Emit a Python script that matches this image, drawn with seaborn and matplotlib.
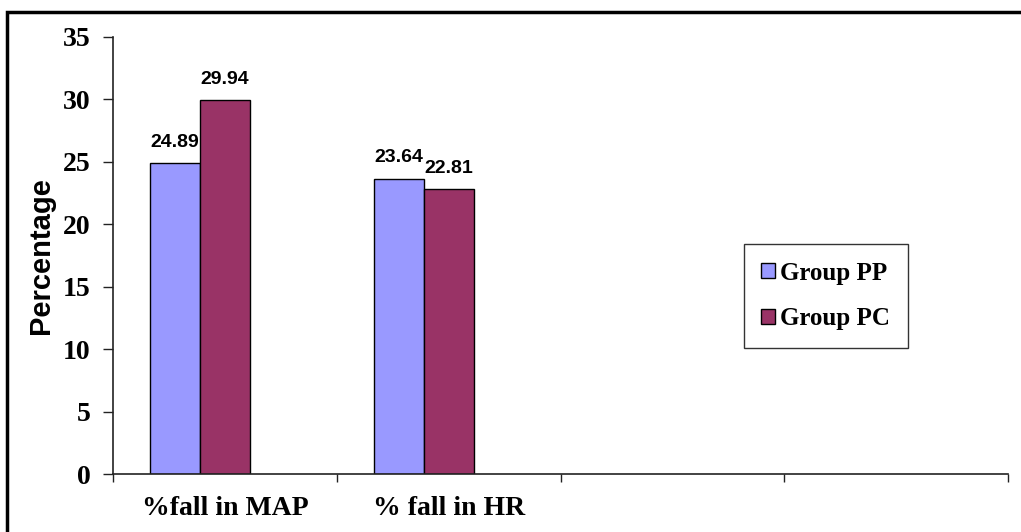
import matplotlib
matplotlib.use("Agg")
import matplotlib.pyplot as plt
import matplotlib.patches as mpatches
import seaborn as sns
import pandas as pd

# Data
categories = ["%fall in MAP", "% fall in HR"]
groups = ["Group PP", "Group PC"]
group_pp = [24.89, 23.64]
group_pc = [29.94, 22.81]
y_ticks = [0, 5, 10, 15, 20, 25, 30, 35]

colors = ["#9999FF", "#993366"]

df = pd.DataFrame({
    "category": categories * 2,
    "group": [groups[0]] * len(categories) + [groups[1]] * len(categories),
    "value": group_pp + group_pc,
})

sns.set_theme(style="white", rc={"text.color": "black", "axes.labelcolor": "black",
                                 "xtick.color": "black", "ytick.color": "black"})
plt.rcParams["font.family"] = ["Liberation Serif", "DejaVu Serif"]

fig = plt.figure(figsize=(10.21, 5.32), dpi=100)
ax = fig.add_axes([113 / 1021, 1 - 474 / 532, (1008 - 113) / 1021, (474 - 37) / 532])

# A third, empty series slot keeps the cluster layout of the original workbook
sns.barplot(data=df, x="category", y="value", hue="group", order=categories,
            hue_order=groups + [" "], palette=colors + ["#FFFFFF"], width=0.67,
            edgecolor="black", linewidth=1.0, saturation=1, ax=ax, legend=False)

# Value labels above bars
for container in ax.containers:
    ax.bar_label(container, fmt="%.2f", padding=9, fontsize=14, fontweight="bold",
                 color="black", family=["Liberation Sans", "DejaVu Sans"])

ax.set_xlim(-0.5, 3.5)
ax.set_ylim(0, 35)
ax.set_yticks(y_ticks)
ax.set_yticklabels([str(t) for t in y_ticks], fontsize=20, fontweight="bold")

ax.set_xticks([-0.5, 0.5, 1.5, 2.5, 3.5])
ax.set_xticklabels([""] * 5)
ax.set_xticks([0, 1], labels=categories, minor=True)
for lbl in ax.get_xticklabels(minor=True):
    lbl.set_fontsize(20)
    lbl.set_fontweight("bold")
ax.tick_params(axis="x", which="major", direction="out", length=6, width=1, color="#222222", bottom=True)
ax.tick_params(axis="x", which="minor", length=0, pad=16)
ax.tick_params(axis="y", direction="out", length=7, width=1, color="#222222", left=True, pad=9)

ax.set_xlabel("")
ax.set_ylabel("Percentage", fontsize=21, fontweight="bold", color="black",
              family=["Liberation Sans", "DejaVu Sans"], labelpad=6)

for side in ["top", "right"]:
    ax.spines[side].set_visible(False)
for side in ["left", "bottom"]:
    ax.spines[side].set_color("#222222")
    ax.spines[side].set_linewidth(1.2)

handles = [mpatches.Patch(facecolor=c, edgecolor="black", linewidth=1) for c in colors]
leg = ax.legend(handles, groups, loc="upper left", bbox_to_anchor=(0.705, 0.526),
                borderaxespad=0, frameon=True, fancybox=False,
                prop={"size": 18, "weight": "bold"}, handlelength=0.55,
                handleheight=0.55, handletextpad=0.2, labelspacing=0.9,
                borderpad=0.7)
leg.get_frame().set_edgecolor("black")
leg.get_frame().set_linewidth(1.0)

# Outer frame around the chart
frame = mpatches.Rectangle((7 / 1021, -0.1), 1.2, 1 - 12 / 532 + 0.1,
                           transform=fig.transFigure, fill=False,
                           edgecolor="black", linewidth=2.5, clip_on=False)
fig.patches.append(frame)

fig.savefig("out.png", dpi=100)
